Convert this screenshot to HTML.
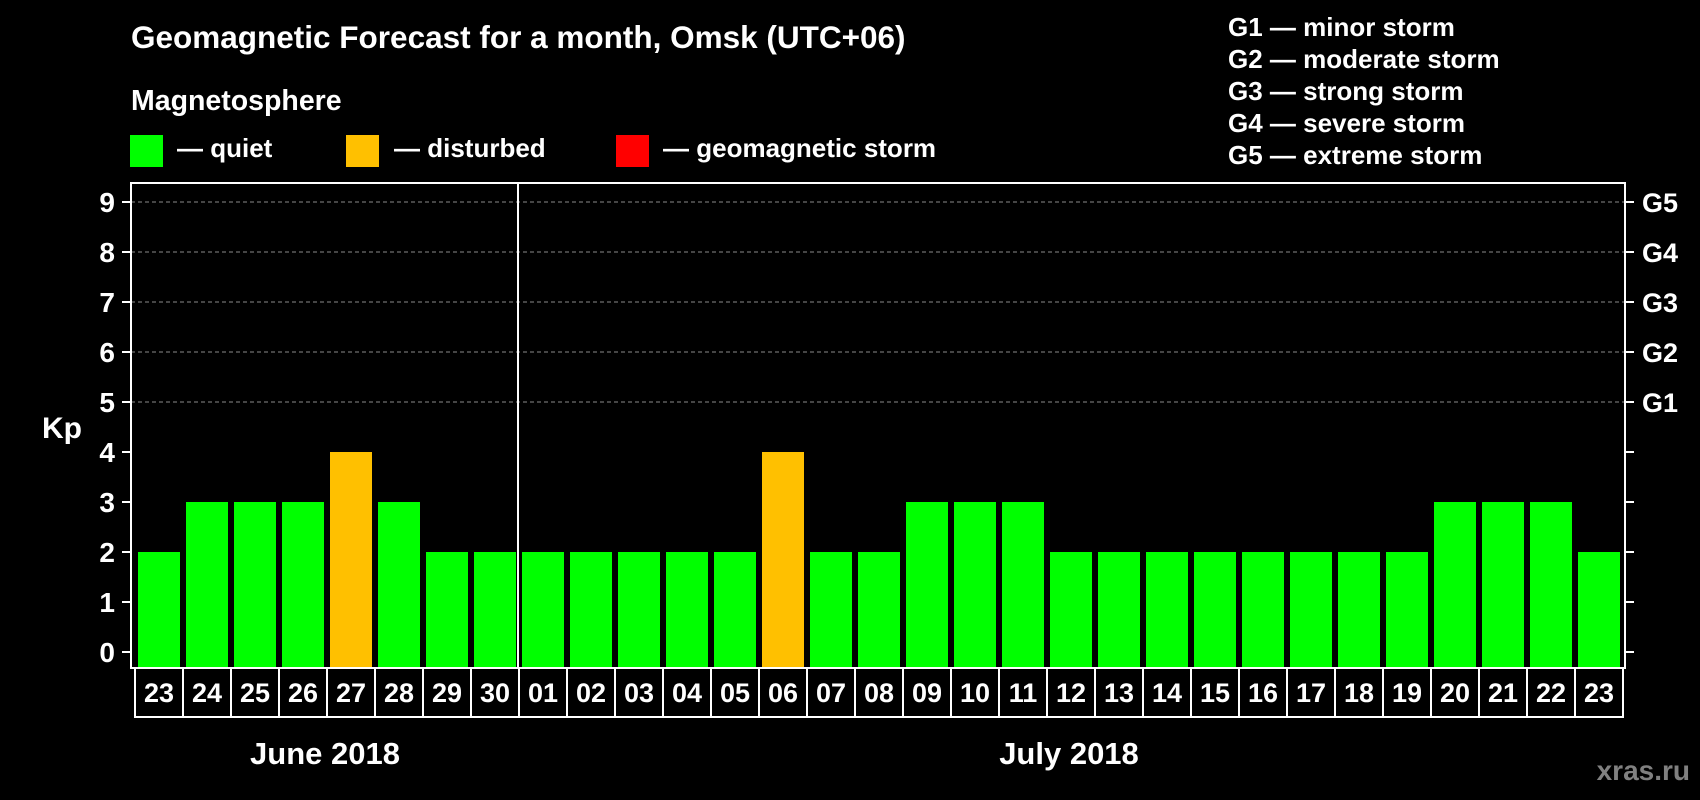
<!DOCTYPE html>
<html><head><meta charset="utf-8"><style>
html,body{margin:0;padding:0;background:#000;width:1700px;height:800px;overflow:hidden}
svg{display:block}
text{font-family:"Liberation Sans",Arial,sans-serif;fill:#fff;font-weight:bold}
</style></head><body>
<svg id="chart" width="1700" height="800" viewBox="0 0 1700 800" xmlns="http://www.w3.org/2000/svg">
<rect width="1700" height="800" fill="#000"/>
<text x="131" y="48" font-size="31.5">Geomagnetic Forecast for a month, Omsk (UTC+06)</text>
<text x="131" y="110" font-size="28.5">Magnetosphere</text>
<g><rect x="130" y="135" width="33" height="32" fill="#00ff00"/><text x="177" y="157" font-size="26">— quiet</text></g>
<g><rect x="346" y="135" width="33" height="32" fill="#ffc000"/><text x="394" y="157" font-size="26">— disturbed</text></g>
<g><rect x="616" y="135" width="33" height="32" fill="#ff0000"/><text x="663" y="157" font-size="26">— geomagnetic storm</text></g>
<g>
<text x="1228" y="36" font-size="26">G1 — minor storm</text>
<text x="1228" y="68" font-size="26">G2 — moderate storm</text>
<text x="1228" y="100" font-size="26">G3 — strong storm</text>
<text x="1228" y="132" font-size="26">G4 — severe storm</text>
<text x="1228" y="164" font-size="26">G5 — extreme storm</text>
</g>
<text x="62" y="438" font-size="30" text-anchor="middle">Kp</text>
<text x="325" y="764" font-size="31" text-anchor="middle">June 2018</text>
<text x="1069" y="764" font-size="31" text-anchor="middle">July 2018</text>
<text x="1690" y="780" font-size="28" text-anchor="end" style="fill:#808080">xras.ru</text>
<g id="plot"></g>
</svg>
<script>
const days = ["23","24","25","26","27","28","29","30","01","02","03","04","05","06","07","08","09","10","11","12","13","14","15","16","17","18","19","20","21","22","23"];
const kpValues = [2,3,3,3,4,3,2,2,2,2,2,2,2,4,2,2,3,3,3,2,2,2,2,2,2,2,2,3,3,3,2];
const yTicks = [0,1,2,3,4,5,6,7,8,9];
const gLabels = ["","","","","","G1","G2","G3","G4","G5"];
const monthSplitIndex = 8;

(function(){
const NS = "http://www.w3.org/2000/svg";
const g = document.getElementById("plot");
const pL = 131, pR = 1625, pT = 183, pB = 668;
const boxLeft = 135, pitch = (1623 - 135) / days.length;
const y = v => 652 - v * 50;
const xBox = i => boxLeft + i * pitch;
function mk(tag, attrs){const e=document.createElementNS(NS,tag);for(const k in attrs)e.setAttribute(k,attrs[k]);g.appendChild(e);return e;}

yTicks.forEach((t,i)=>{
  if(t>=5){const gl=mk("line",{x1:pL,x2:pR,y1:y(t),y2:y(t),stroke:"#8a8a8a","stroke-width":1,"stroke-dasharray":"4,3"});
    
    }
  const tl=mk("line",{x1:pL-9,x2:pL,y1:y(t),y2:y(t),stroke:"#fff","stroke-width":2});
  
  
  const tr=mk("line",{x1:pR,x2:pR+9,y1:y(t),y2:y(t),stroke:"#fff","stroke-width":2});
  
  
  const lb=mk("text",{x:115,y:y(t)+10,"font-size":28,"text-anchor":"end"});
  lb.textContent=t;
  
  
  if(gLabels[i]){const gl2=mk("text",{x:1642,y:y(t)+10,"font-size":27});
    gl2.textContent=gLabels[i];
    
    }
});

kpValues.forEach((v,i)=>{
  const col = v>=5 ? "#ff0000" : (v>=4 ? "#ffc000" : "#00ff00");
  const b=mk("rect",{x:xBox(i)+3,y:y(v),width:pitch-6,height:pB-y(v),fill:col});
  
  
  const bx=mk("rect",{x:xBox(i),y:pB,width:pitch,height:49,fill:"#000",stroke:"#fff","stroke-width":2});
  
  
  const dt=mk("text",{x:xBox(i)+pitch/2,y:702,"font-size":27,"text-anchor":"middle"});
  dt.textContent=days[i];
  
  
});

const frame=mk("rect",{x:pL,y:pT,width:pR-pL,height:pB-pT,fill:"none",stroke:"#fff","stroke-width":2});


const dv=mk("line",{x1:xBox(monthSplitIndex)-1,x2:xBox(monthSplitIndex)-1,y1:pT,y2:pB,stroke:"#fff","stroke-width":2});


})();
</script>
</body></html>
